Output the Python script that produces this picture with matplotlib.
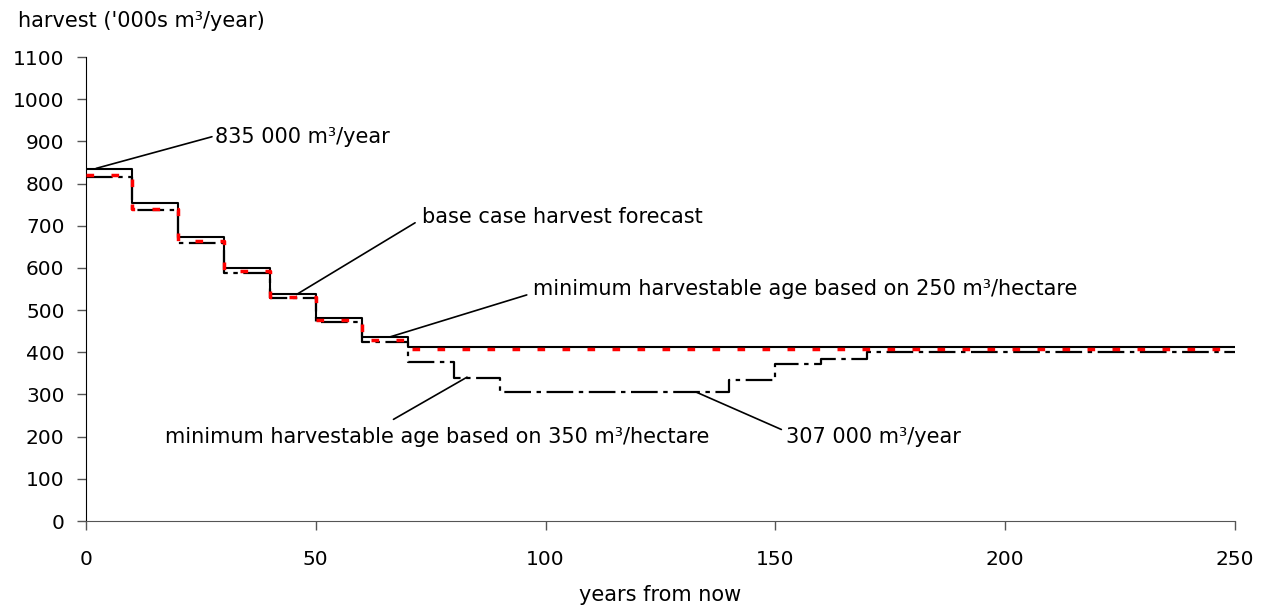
import numpy as np
import matplotlib
matplotlib.use('Agg')
import matplotlib.pyplot as plt

plt.rcParams['font.family'] = ['DejaVu Sans']
plt.rcParams['font.size'] = 14.5

# harvest levels ('000s m3/year), each held from its start year to the next
base_years = [0, 10, 20, 30, 40, 50, 60, 70, 250]
base_harvest = [835, 753, 673, 600, 538, 482, 436, 413]

mha250_years = [0, 10, 20, 30, 40, 50, 60, 70, 250]
mha250_harvest = [820, 739, 663, 593, 532, 476, 428, 407]

mha350_years = [0, 10, 20, 30, 40, 50, 60, 70, 80, 90, 140, 150, 160, 170, 250]
mha350_harvest = [816, 737, 660, 589, 529, 472, 424, 377, 339, 306, 335, 373, 385, 400]

yticks = list(range(0, 1101, 100))
xticks = [0, 50, 100, 150, 200, 250]


def steps(years, vals):
   #repeat last value so the step runs to the final year
   return np.array(years), np.array(vals + [vals[-1]])


fig = plt.figure(figsize=(12.67, 6.15), dpi=100)
ax = fig.add_axes([0.0679, 0.1528, 0.9068, 0.7545])

x, y = steps(base_years, base_harvest)
ax.step(x, y, where='post', color='black', lw=1.5, zorder=3)

x, y = steps(mha350_years, mha350_harvest)
ax.step(x, y, where='post', color='black', lw=1.6, linestyle=(0, (12, 2.5, 2, 2.5)), zorder=3)

x, y = steps(mha250_years, mha250_harvest)
ax.step(x, y, where='post', color='#ff0000', lw=2.5, linestyle=(0, (2.2, 5)), zorder=4)

ax.set_xlim(0, 250)
ax.set_ylim(0, 1100)
ax.set_xticks(xticks)
ax.set_yticks(yticks)

for s in ['top', 'right']:
   ax.spines[s].set_visible(False)
ax.spines['left'].set_color('black')
ax.spines['bottom'].set_color('#555555')
ax.tick_params(axis='both', direction='out', length=6.5, width=1, color='#555555')
ax.tick_params(axis='y', pad=9)
ax.tick_params(axis='x', pad=14)

ax.set_xlabel('years from now', labelpad=12, fontsize=15)
fig.text(0.014, 0.966, "harvest ('000s m³/year)", ha='left', va='center', fontsize=15)

#annotations: label, text anchor (x, baseline), alignment, point on the line, leader end
lab_size = 15
notes = [('835 000 m³/year', (28.1, 897), 'left', (2.2, 836), (27.4, 911)),
         ('base case harvest forecast', (73.2, 707), 'left', (45.8, 537), (71.6, 707)),
         ('minimum harvestable age based on 250 m³/hectare', (97.3, 537), 'left', (66.0, 436), (95.9, 536)),
         ('minimum harvestable age based on 350 m³/hectare', (76.4, 184), 'center', (82.9, 341), (66.9, 241)),
         ('307 000 m³/year', (152.4, 184), 'left', (132.9, 305), (151.3, 217))]
for label, tpos, align, pt, end in notes:
   ax.annotate('', xy=pt, xytext=end, arrowprops=dict(arrowstyle='-', color='black', lw=1.2,
                                                    shrinkA=0, shrinkB=0))
   ax.text(tpos[0], tpos[1], label, ha=align, va='baseline', fontsize=lab_size)

fig.savefig('out.png', dpi=100)
